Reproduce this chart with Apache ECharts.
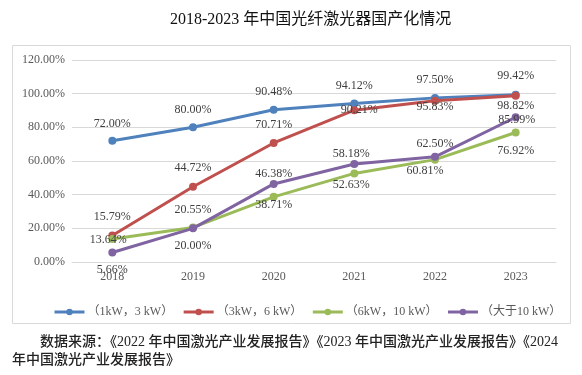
<!DOCTYPE html>
<html>
<head>
<meta charset="utf-8">
<script src="https://cdn.jsdelivr.net/npm/echarts@6/dist/echarts.min.js"></script>
<style>
html,body{margin:0;padding:0;background:#fff;}
#c{width:582px;height:375px;}
</style>
</head>
<body>
<div id="c"></div>
<script>
const titleText = '2018-2023 年中国光纤激光器国产化情况';
const categories = ['2018', '2019', '2020', '2021', '2022', '2023'];
const seriesNames = ['（1kW，3 kW）', '（3kW，6 kW）', '（6kW，10 kW）', '（大于10 kW）'];
const s1 = [72.00, 80.00, 90.48, 94.12, 97.50, 99.42];
const s2 = [15.79, 44.72, 70.71, 90.21, 95.83, 98.82];
const s3 = [13.64, 20.55, 38.71, 52.63, 60.81, 76.92];
const s4 = [5.66, 20.00, 46.38, 58.18, 62.50, 85.99];
const yTicks = [0, 20, 40, 60, 80, 100, 120];
const sourceLine1 = '数据来源：《2022 年中国激光产业发展报告》《2023 年中国激光产业发展报告》《2024';
const sourceLine2 = '年中国激光产业发展报告》';

// label placement (offsets from point centre), styling only
const labelOffsets = [
  [[0,-17],[0,-17.5],[0,-18],[0,-18],[0,-18],[0,-19]],
  [[0,-19],[0,-19],[0,-18],[5,0],[0,6],[0,10]],
  [[-4,1],[0,-17.5],[0,8],[-3,11.5],[-10,11],[0,18]],
  [[0,17.5],[0,18],[0,-10],[-3,-10],[0,-13],[1,2.5]]
];
const colors = ['#4F81BD', '#C0504D', '#9BBB59', '#8064A2'];
const FONT = "'Times New Roman','Liberation Serif','Noto Serif CJK SC','Noto Sans CJK SC',serif";
const CJKFONT = "'Times New Roman','Liberation Serif','Noto Sans CJK SC',serif";

const chart = echarts.init(document.getElementById('c'), null, {renderer: 'canvas'});
const allData = [s1, s2, s3, s4];

const series = allData.map((arr, si) => ({
  name: seriesNames[si],
  type: 'line',
  data: arr.map((v, i) => ({
    value: v,
    label: {offset: labelOffsets[si][i]}
  })),
  symbol: 'circle',
  symbolSize: 8,
  lineStyle: {width: 3, color: colors[si]},
  itemStyle: {color: colors[si]},
  z: 2 + si,
  label: {
    show: true,
    position: 'inside',
    formatter: p => p.value.toFixed(2) + '%',
    color: '#404040',
    fontSize: 12,
    fontFamily: FONT
  },
  emphasis: {disabled: true},
  animation: false
}));

chart.setOption({
  animation: false,
  color: colors,
  title: {
    text: titleText,
    left: 165,
    top: 7,
    textStyle: {fontSize: 16, fontWeight: 'normal', color: '#111', fontFamily: CJKFONT}
  },
  grid: {left: 72, right: 26, top: 60, bottom: 113, containLabel: false},
  xAxis: {
    type: 'category',
    data: categories,
    boundaryGap: true,
    axisLine: {show: true, lineStyle: {color: '#d9d9d9'}},
    axisTick: {show: false},
    axisLabel: {color: '#595959', fontSize: 12, fontFamily: FONT, margin: 9}
  },
  yAxis: {
    type: 'value',
    min: yTicks[0],
    max: yTicks[yTicks.length - 1],
    interval: yTicks[1] - yTicks[0],
    axisLine: {show: false},
    axisTick: {show: false},
    splitLine: {lineStyle: {color: '#d9d9d9', width: 1}},
    axisLabel: {color: '#595959', fontSize: 12, fontFamily: FONT, margin: 7,
      formatter: v => v.toFixed(2) + '%'}
  },
  legend: {
    left: 48,
    top: 301,
    itemWidth: 30,
    itemHeight: 8,
    itemGap: 9,
    lineStyle: {width: 3},
    textStyle: {color: '#595959', fontSize: 12, fontFamily: CJKFONT, padding: [0, 0, 0, -2]},
    data: seriesNames
  },
  graphic: [
    {type: 'rect', shape: {x: 12.5, y: 45.5, width: 558, height: 278},
     style: {fill: 'none', stroke: '#d9d9d9', lineWidth: 1}, silent: true, z: -1},
    {type: 'text', left: 40, top: 335,
     style: {text: sourceLine1, fill: '#222', fontSize: 14, fontWeight: 500, fontFamily: CJKFONT}},
    {type: 'text', left: 12, top: 353,
     style: {text: sourceLine2, fill: '#222', fontSize: 14, fontWeight: 500, fontFamily: CJKFONT}}
  ],
  series: series
});
</script>
</body>
</html>
